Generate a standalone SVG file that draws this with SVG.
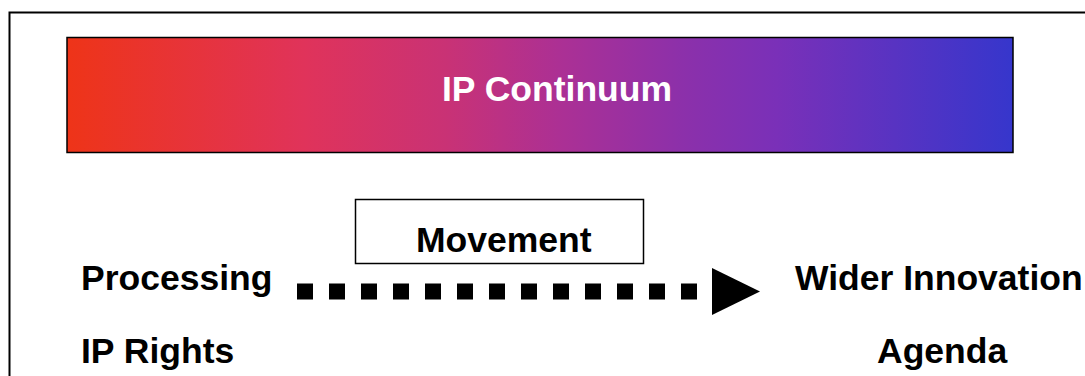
<svg xmlns="http://www.w3.org/2000/svg" width="1085" height="376" viewBox="0 0 1085 376">
<style>
.t{font-family:"Liberation Sans",Arial,sans-serif;font-weight:bold;font-size:35.5px;fill:#000}
.w{fill:#fff}
</style>
<defs>
<linearGradient id="g" x1="0" y1="0" x2="1" y2="0">
<stop offset="0" stop-color="#EE3418"/>
<stop offset="0.25" stop-color="#E0335A"/>
<stop offset="0.4" stop-color="#C93275"/>
<stop offset="0.52" stop-color="#AC3094"/>
<stop offset="0.65" stop-color="#8C30AA"/>
<stop offset="0.75" stop-color="#7A30B8"/>
<stop offset="1" stop-color="#3636CC"/>
</linearGradient>
</defs>
<rect x="0" y="0" width="1085" height="376" fill="#fff"/>
<rect x="9.5" y="12.5" width="1100" height="400" fill="none" stroke="#000" stroke-width="2"/>
<g id="continuum">
<rect x="67" y="37.5" width="946" height="115" fill="url(#g)" stroke="#000" stroke-width="1.5"/>
<text class="t w" x="557" y="101" text-anchor="middle">IP Continuum</text>
</g>
<g id="movement">
<rect x="355.5" y="199.5" width="288" height="64" fill="#fff" stroke="#000" stroke-width="1.5"/>
<text class="t" x="416" y="252">Movement</text>
</g>
<g id="processing">
<text class="t" x="81" y="290">Processing</text>
<text class="t" x="81" y="363">IP Rights</text>
</g>
<g id="wider">
<text class="t" x="795" y="290">Wider Innovation</text>
<text class="t" x="877" y="363">Agenda</text>
</g>
<g id="connectors">
<line x1="297" y1="291.5" x2="713" y2="291.5" stroke="#000" stroke-width="16" stroke-dasharray="16 16"/>
<polygon points="712,268 712,315 760,291.5" fill="#000"/>
</g>
</svg>
